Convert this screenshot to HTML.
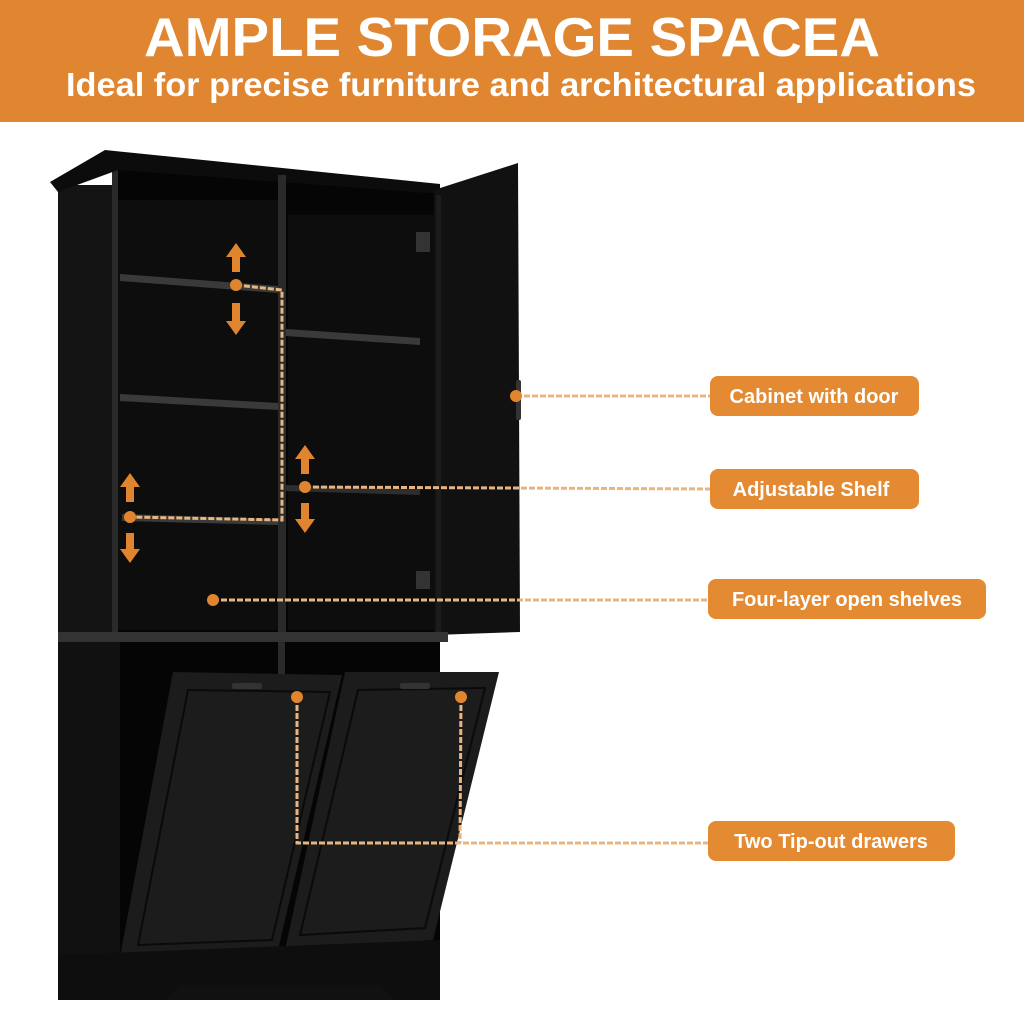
<!DOCTYPE html>
<html><head><meta charset="utf-8"><style>
html,body{margin:0;padding:0;background:#fff;width:1024px;height:1024px;overflow:hidden}
svg{display:block}
</style></head><body>
<svg width="1024" height="1024" viewBox="0 0 1024 1024" xmlns="http://www.w3.org/2000/svg" font-family="Liberation Sans, sans-serif">
<rect x="0" y="0" width="1024" height="122" fill="#e08530"/>
<text x="512" y="56" text-anchor="middle" fill="#fff" font-size="55" font-weight="bold" textLength="736" lengthAdjust="spacingAndGlyphs">AMPLE STORAGE SPACEA</text>
<text x="521" y="96" text-anchor="middle" fill="#fff" font-size="33" font-weight="bold" textLength="910" lengthAdjust="spacingAndGlyphs">Ideal for precise furniture and architectural applications</text>

<!-- cabinet body -->
<rect x="58" y="185" width="62" height="815" fill="#141414"/>
<rect x="112" y="160" width="8" height="475" fill="#2a2a2a"/>
<polygon points="118,160 440,190 440,635 118,635" fill="#050505"/>
<rect x="118" y="200" width="160" height="430" fill="#0d0d0d"/>
<rect x="288" y="215" width="150" height="415" fill="#0d0d0d"/>
<polygon points="50,182 105,150 440,184 440,194 118,170 58,192" fill="#0c0c0c"/>
<rect x="278" y="175" width="8" height="460" fill="#2a2a2a"/>
<polygon points="120,274 278,286 278,293 120,281" fill="#3a3a3a"/>
<polygon points="120,394 278,403 278,410 120,401" fill="#3a3a3a"/>
<polygon points="122,514 278,519 278,525 122,521" fill="#3a3a3a"/>
<polygon points="286,329 420,338 420,345 286,336" fill="#3a3a3a"/>
<polygon points="286,485 420,489 420,495 286,491" fill="#2e2e2e"/>
<!-- door -->
<polygon points="434,190 518,163 520,632 434,635" fill="#111"/>
<rect x="436" y="195" width="5" height="440" fill="#1c1c1c"/>
<rect x="416" y="232" width="14" height="20" fill="#333"/>
<rect x="416" y="571" width="14" height="18" fill="#333"/>
<rect x="516" y="380" width="5" height="40" rx="2" fill="#333"/>
<!-- middle band -->
<rect x="58" y="632" width="390" height="10" fill="#333"/>
<!-- lower -->
<rect x="58" y="642" width="382" height="358" fill="#111"/>
<rect x="120" y="642" width="320" height="310" fill="#050505"/>
<rect x="278" y="642" width="7" height="35" fill="#2a2a2a"/>
<polygon points="173,672 342,675 278,950 120,957" fill="#1c1c1c"/>
<polygon points="188,690 330,692 272,940 138,945" fill="none" stroke="#0a0a0a" stroke-width="2"/>
<polygon points="345,672 499,672 433,940 285,950" fill="#1c1c1c"/>
<polygon points="358,690 485,688 425,928 300,935" fill="none" stroke="#0a0a0a" stroke-width="2"/>
<rect x="232" y="683" width="30" height="6" rx="2" fill="#333"/>
<rect x="400" y="683" width="30" height="6" rx="2" fill="#333"/>
<path d="M58 955 L440 940 L440 1000 L395 1000 L380 985 L180 985 L165 1000 L58 1000 Z" fill="#0e0e0e"/>

<!-- callout lines -->
<g stroke="#e8b582" stroke-width="3" fill="none" stroke-dasharray="6 2">
<polyline points="236,285 282,290 282,520 130,517"/>
<line x1="305" y1="487" x2="710" y2="489"/>
<line x1="213" y1="600" x2="710" y2="600"/>
<line x1="516" y1="396" x2="710" y2="396"/>
<polyline points="297,697 297,843 710,843"/>
<line x1="461" y1="697" x2="460" y2="843"/>
</g>
<g fill="#e0852e">
<circle cx="236" cy="285" r="6"/><circle cx="305" cy="487" r="6"/><circle cx="130" cy="517" r="6"/>
<circle cx="213" cy="600" r="6"/><circle cx="516" cy="396" r="6"/><circle cx="297" cy="697" r="6"/><circle cx="461" cy="697" r="6"/>
<path d="M236 243 L246 257 L240 257 L240 272 L232 272 L232 257 L226 257 Z"/>
<path d="M236 335 L246 321 L240 321 L240 303 L232 303 L232 321 L226 321 Z"/>
<path d="M305 445 L315 459 L309 459 L309 474 L301 474 L301 459 L295 459 Z"/>
<path d="M305 533 L315 519 L309 519 L309 503 L301 503 L301 519 L295 519 Z"/>
<path d="M130 473 L140 487 L134 487 L134 502 L126 502 L126 487 L120 487 Z"/>
<path d="M130 563 L140 549 L134 549 L134 533 L126 533 L126 549 L120 549 Z"/>
</g>

<!-- labels -->
<g font-size="20" font-weight="bold" fill="#fff">
<rect x="710" y="376" width="209" height="40" rx="8" fill="#e38a33"/>
<text x="814" y="403" text-anchor="middle">Cabinet with door</text>
<rect x="710" y="469" width="209" height="40" rx="8" fill="#e38a33"/>
<text x="811" y="496" text-anchor="middle">Adjustable Shelf</text>
<rect x="708" y="579" width="278" height="40" rx="8" fill="#e38a33"/>
<text x="847" y="606" text-anchor="middle">Four-layer open shelves</text>
<rect x="708" y="821" width="247" height="40" rx="8" fill="#e38a33"/>
<text x="831" y="848" text-anchor="middle">Two Tip-out drawers</text>
</g>
</svg>
</body></html>
